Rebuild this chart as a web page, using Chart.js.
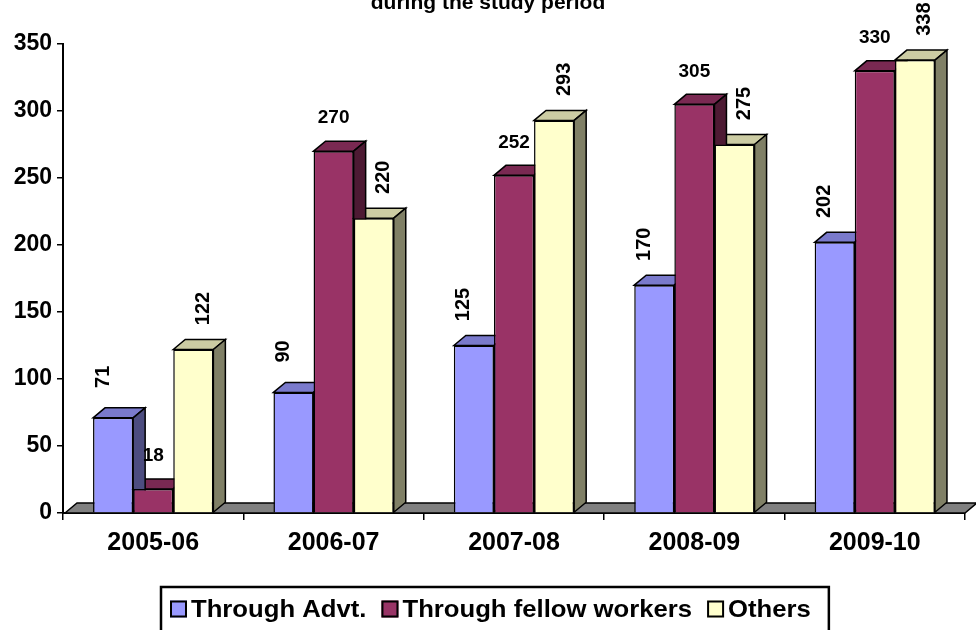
<!DOCTYPE html>
<html>
<head>
<meta charset="utf-8">
<script src="https://cdn.jsdelivr.net/npm/chart.js@4.4.1/dist/chart.umd.min.js"></script>
<style>
  html, body { margin: 0; padding: 0; background: #fff; }
  #wrap { width: 976px; height: 630px; }
</style>
</head>
<body>
<div id="wrap"><canvas id="chart" width="976" height="630"></canvas></div>
<script>
// anos e séries
const categorias = ['2005-06', '2006-07', '2007-08', '2008-09', '2009-10'];
const viaAnuncio = [71, 90, 125, 170, 202];
const viaColegas = [18, 270, 252, 305, 330];
const outros = [122, 220, 293, 275, 338];
const ticksY = [0, 50, 100, 150, 200, 250, 300, 350];

const FONTE = '"Liberation Sans", Arial, sans-serif';
// profundidade do efeito 3d
const DX = 12, DY = -10;

// titulo (só a segunda linha aparece)
const tituloPlugin = {
  id: 'titulo',
  afterDraw(chart) {
    let ctx = chart.ctx;
    ctx.save();
    ctx.font = 'bold 21px ' + FONTE;
    ctx.fillStyle = '#000';
    ctx.textAlign = 'center';
    ctx.textBaseline = 'alphabetic';
    ctx.fillText('during the study period', chart.width / 2, 9);
    ctx.restore();
  }
};

// chão e faces de cima / lado das barras
const caixa3d = {
  id: 'caixa3d',
  beforeDatasetsDraw(chart) {
    let ctx = chart.ctx;
    let area = chart.chartArea;
    ctx.save();
    ctx.lineWidth = 1.5;
    ctx.strokeStyle = '#000';
    ctx.lineJoin = 'miter';

    ctx.fillStyle = '#808080';
    ctx.beginPath();
    ctx.moveTo(area.left + 2, area.bottom);
    ctx.lineTo(area.left + 2 + DX, area.bottom + DY);
    ctx.lineTo(area.right + DX, area.bottom + DY);
    ctx.lineTo(area.right, area.bottom);
    ctx.closePath();
    ctx.fill();
    ctx.stroke();

    let metas = chart.getSortedVisibleDatasetMetas();
    for (let i = 0; i < categorias.length; i++) {
      for (let d = metas.length - 1; d >= 0; d--) {
        let ds = chart.data.datasets[metas[d].index];
        let bar = metas[d].data[i];
        let p = bar.getProps(['x', 'y', 'base', 'width'], true);
        let l = p.x - p.width / 2, r = p.x + p.width / 2;

        ctx.fillStyle = ds.corTopo;
        ctx.beginPath();
        ctx.moveTo(l, p.y);
        ctx.lineTo(l + DX, p.y + DY);
        ctx.lineTo(r + DX, p.y + DY);
        ctx.lineTo(r, p.y);
        ctx.closePath();
        ctx.fill();
        ctx.stroke();

        ctx.fillStyle = ds.corLado;
        ctx.beginPath();
        ctx.moveTo(r, p.y);
        ctx.lineTo(r + DX, p.y + DY);
        ctx.lineTo(r + DX, p.base + DY);
        ctx.lineTo(r, p.base);
        ctx.closePath();
        ctx.fill();
        ctx.stroke();
      }
    }
    ctx.restore();
  }
};

// rótulos de valor: colegas na horizontal, os outros em pé
const rotulos = {
  id: 'rotulos',
  afterDatasetsDraw(chart) {
    let ctx = chart.ctx;
    ctx.save();
    ctx.fillStyle = '#000';
    ctx.textAlign = 'center';
    ctx.textBaseline = 'middle';
    chart.getSortedVisibleDatasetMetas().forEach(meta => {
      let ds = chart.data.datasets[meta.index];
      meta.data.forEach((bar, i) => {
        let texto = String(ds.data[i]);
        if (ds.rotuloDeitado) {
          ctx.font = 'bold 19px ' + FONTE;
          ctx.fillText(texto, bar.x, bar.y - 33);
        } else {
          ctx.font = 'bold 20px ' + FONTE;
          ctx.save();
          ctx.translate(bar.x + ds.rotuloDx, bar.y - 41);
          ctx.rotate(-Math.PI / 2);
          ctx.fillText(texto, 0, 0);
          ctx.restore();
        }
      });
    });
    ctx.restore();
  }
};

// legenda desenhada à mão, com moldura e texto um pouco esticado
const legenda = {
  id: 'legenda',
  afterDraw(chart) {
    let ctx = chart.ctx;
    let esticar = 1.07;
    let lado = 17;
    let x = 170;
    let cy = 609;
    ctx.save();
    ctx.font = 'bold 24px ' + FONTE;
    ctx.textBaseline = 'middle';
    ctx.textAlign = 'left';
    chart.data.datasets.forEach((ds, k) => {
      if (k > 0) x += 15;
      ctx.fillStyle = ds.backgroundColor;
      ctx.fillRect(x, cy - lado / 2, lado, lado);
      ctx.strokeStyle = '#000';
      ctx.lineWidth = 2;
      ctx.strokeRect(x + 1, cy - lado / 2 + 1, lado - 2, lado - 2);
      x += lado + 4;
      ctx.save();
      ctx.translate(x, cy + 1);
      ctx.scale(esticar, 1);
      ctx.fillStyle = '#000';
      ctx.fillText(ds.label, 0, 0);
      ctx.restore();
      x += ctx.measureText(ds.label).width * esticar;
    });
    ctx.strokeStyle = '#000';
    ctx.lineWidth = 2.5;
    ctx.strokeRect(161, 587, x + 18 - 161, 50);
    ctx.restore();
  }
};

let ctx = document.getElementById('chart').getContext('2d');
let grafico = new Chart(ctx, {
  type: 'bar',
  data: {
    labels: categorias,
    datasets: [
      {label: 'Through Advt.', data: viaAnuncio, backgroundColor: '#9999FF', corTopo: '#7A7ACC', corLado: '#4D4D80',
       borderColor: '#000', borderWidth: 1.5, rotuloDeitado: false, rotuloDx: -10},
      {label: 'Through fellow workers', data: viaColegas, backgroundColor: '#993366', corTopo: '#7A2952', corLado: '#4D1A33',
       borderColor: '#000', borderWidth: 1.5, rotuloDeitado: true, rotuloDx: 0},
      {label: 'Others', data: outros, backgroundColor: '#FFFFCC', corTopo: '#CCCCA3', corLado: '#808066',
       borderColor: '#000', borderWidth: 1.5, rotuloDeitado: false, rotuloDx: 10}
    ]
  },
  options: {
    responsive: false,
    animation: false,
    devicePixelRatio: 1,
    categoryPercentage: 0.667,
    barPercentage: 1.0,
    layout: {padding: {top: 44, right: 11, left: 0, bottom: 57}},
    plugins: {
      title: {display: false},
      tooltip: {enabled: false},
      legend: {display: false}
    },
    scales: {
      x: {
        grid: {display: true, drawOnChartArea: false, drawTicks: true, tickLength: 7, color: '#000', lineWidth: 1.5, offset: true},
        border: {display: true, color: '#000', width: 2},
        ticks: {color: '#000', font: {family: FONTE, size: 25, weight: 'bold'}, padding: 8, maxRotation: 0},
        afterFit(scale) { scale.height = 60; }
      },
      y: {
        min: 0,
        max: 350,
        afterBuildTicks(scale) { scale.ticks = ticksY.map(v => ({value: v})); },
        grid: {display: true, drawOnChartArea: false, drawTicks: true, tickLength: 6, color: '#000', lineWidth: 1.5},
        border: {display: true, color: '#000', width: 2},
        ticks: {color: '#000', font: {family: FONTE, size: 23, weight: 'bold'}, padding: 5},
        afterFit(scale) { scale.width = 63; }
      }
    }
  },
  plugins: [caixa3d, rotulos, tituloPlugin, legenda]
});
</script>
</body>
</html>
